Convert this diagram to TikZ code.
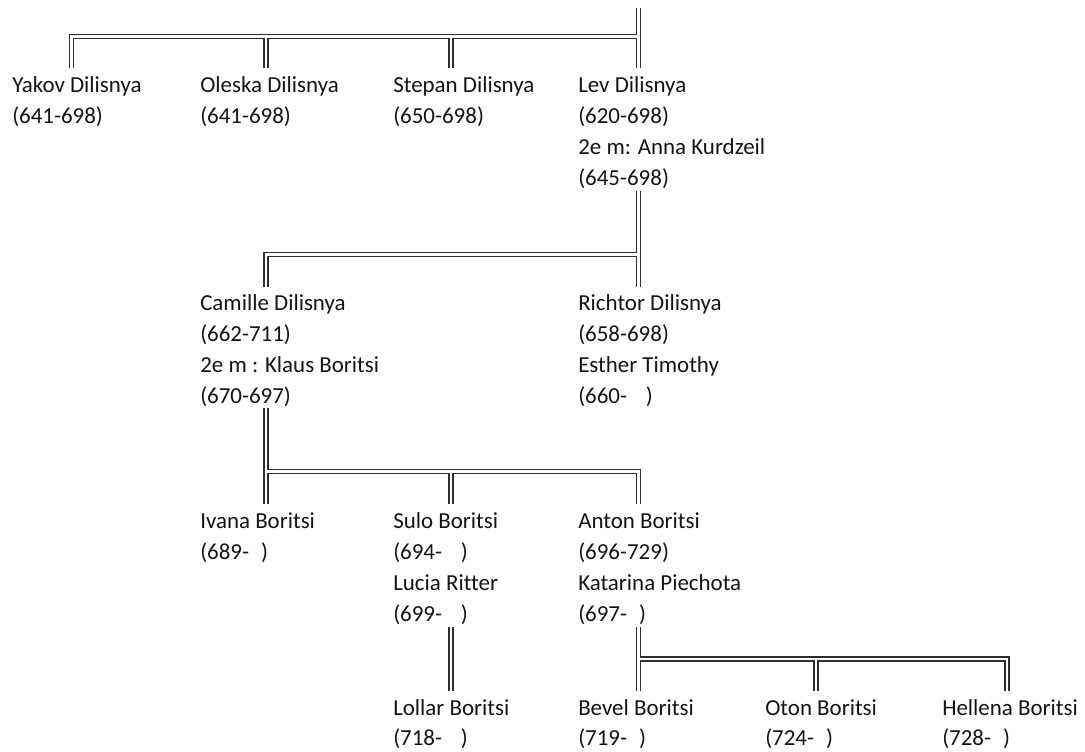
\documentclass[tikz,border=0pt]{standalone}
\usepackage{fontspec}
\setmainfont{Carlito}[Ligatures=NoCommon]
\definecolor{txt}{HTML}{141414}
\definecolor{ln}{HTML}{2E2E2E}
\newcommand\ppl[1]{\begin{tabular}[t]{@{}l@{}}#1\end{tabular}}
\newcommand\gs{\hspace{9pt}}
\newcommand\gl{\hspace{14pt}}
\begin{document}
\begin{tikzpicture}[x=0.75pt,y=-0.75pt,
  person/.style={anchor=base west, inner sep=0pt, text=txt,
    font=\fontsize{17.2}{23.25}\selectfont},
  lastrow/.style={person, font=\fontsize{17.2}{22.5}\selectfont},
  dbl/.style={draw=ln, line width=1.1pt, double=white, double distance=1.9pt}]
\useasboundingbox[fill=white] (0,0) rectangle (1085,751);
% generation 1
\node[person] (yakov)  at (12,92.5)  {\ppl{Yakov Dilisnya\\(641-698)}};
\node[person] (oleska) at (200,92.5) {\ppl{Oleska Dilisnya\\(641-698)}};
\node[person] (stepan) at (393,92.5) {\ppl{Stepan Dilisnya\\(650-698)}};
\node[person] (lev)    at (578,92.5) {\ppl{Lev Dilisnya\\(620-698)\\2e m: Anna Kurdzeil\\(645-698)}};
% generation 2
\node[person] (camille) at (200,310) {\ppl{Camille Dilisnya\\(662-711)\\2e m : Klaus Boritsi\\(670-697)}};
\node[person] (richtor) at (578,310) {\ppl{Richtor Dilisnya\\(658-698)\\Esther Timothy\\(660-\gl)}};
% generation 3
\node[person] (ivana) at (200,528) {\ppl{Ivana Boritsi\\(689-\gs)}};
\node[person] (sulo)  at (393,528) {\ppl{Sulo Boritsi\\(694-\gl)\\Lucia Ritter\\(699-\gl)}};
\node[person] (anton) at (578,528) {\ppl{Anton Boritsi\\(696-729)\\Katarina Piechota\\(697-\gs)}};
% generation 4
\node[lastrow] (lollar)  at (393,715) {\ppl{Lollar Boritsi\\(718-\gl)}};
\node[lastrow] (bevel)   at (578,715) {\ppl{Bevel Boritsi\\(719-\gs)}};
\node[lastrow] (oton)    at (765,715) {\ppl{Oton Boritsi\\(724-\gs)}};
\node[lastrow] (hellena) at (942,715) {\ppl{Hellena Boritsi\\(728-\gs)}};
% attachment points
\coordinate (root)    at (638.5,8);
\coordinate (yakovT)  at (71.5,68);
\coordinate (oleskaT) at (266,68);
\coordinate (stepanT) at (451,68);
\coordinate (levT)    at (638.5,68);
\coordinate (levB)    at (638.5,191);
\coordinate (camilleT) at (266,287);
\coordinate (richtorT) at (638.5,287);
\coordinate (camilleB) at (266,408);
\coordinate (ivanaT) at (266,504);
\coordinate (suloT)  at (451,504);
\coordinate (antonT) at (638.5,504);
\coordinate (suloB)  at (451,627);
\coordinate (antonB) at (638.5,627);
\coordinate (lollarT)  at (451,691);
\coordinate (bevelT)   at (638.5,691);
\coordinate (otonT)    at (816,691);
\coordinate (hellenaT) at (1007,691);
% connectors
\draw[dbl] (root) -- (levT)
  (yakovT) |- (root |- 0,36.3)
  (oleskaT) -- (oleskaT |- 0,36.3)
  (stepanT) -- (stepanT |- 0,36.3);
\draw[dbl] (levB) -- (richtorT)
  (camilleT) |- (levB |- 0,254.5);
\draw[dbl] (camilleB) -- (ivanaT)
  (camilleB |- 0,471.5) -| (antonT)
  (suloT) -- (suloT |- 0,471.5);
\draw[dbl] (suloB) -- (lollarT);
\draw[dbl] (antonB) -- (bevelT)
  (antonB |- 0,659) -| (hellenaT)
  (otonT) -- (otonT |- 0,659);
\end{tikzpicture}
\end{document}
